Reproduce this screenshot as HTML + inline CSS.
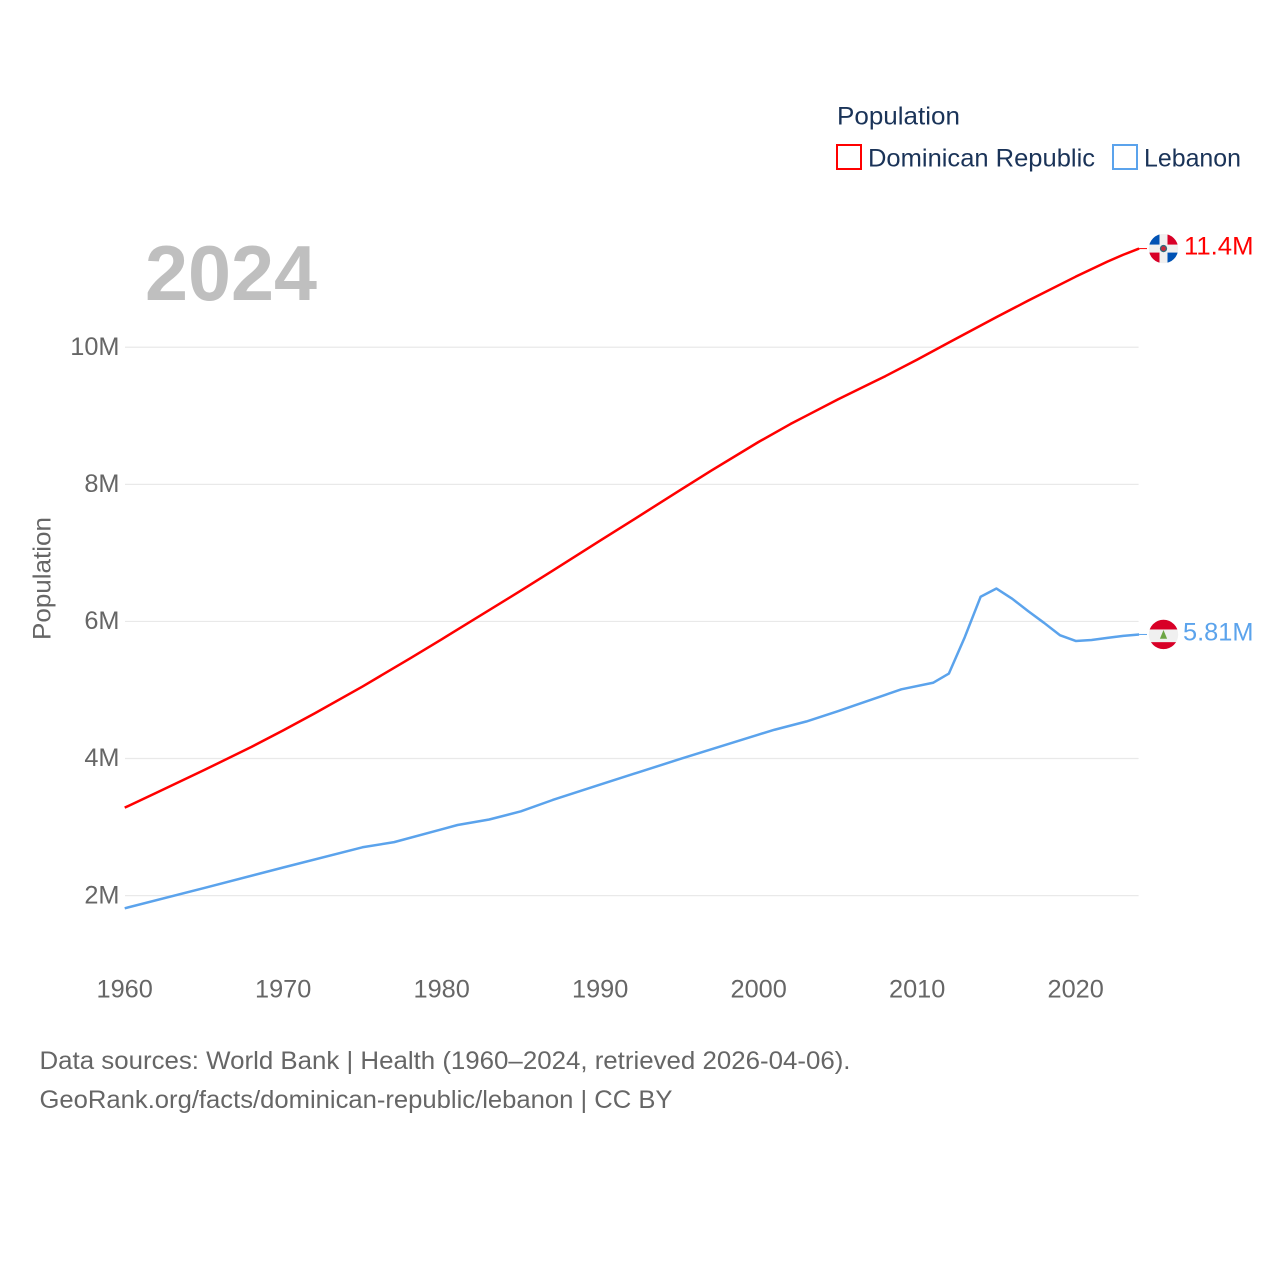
<!DOCTYPE html>
<html lang="en">
<head>
<meta charset="utf-8">
<title>Population: Dominican Republic and Lebanon</title>
<style>
html,body{margin:0;padding:0;background:#fff;width:1280px;height:1280px;overflow:hidden}
svg{display:block}
text{font-family:"Liberation Sans",sans-serif}
</style>
</head>
<body>
<svg id="chart" width="1280" height="1280" viewBox="0 0 1280 1280" xmlns="http://www.w3.org/2000/svg">
  <defs>
    <clipPath id="flag-clip"><circle cx="0" cy="0" r="14.7"/></clipPath>
  </defs>
  <rect width="1280" height="1280" fill="#fff"/>
  <g id="grid"></g>
  <g id="y-ticks"></g>
  <g id="x-ticks"></g>
  <text transform="translate(50.5,640) rotate(-90)" font-size="25" fill="#666" textLength="123" lengthAdjust="spacingAndGlyphs">Population</text>
  <text x="145" y="300" font-size="78" font-weight="700" fill="#bfbfbf" textLength="172" lengthAdjust="spacingAndGlyphs">2024</text>
  <g id="series"></g>
  <g id="end-labels"></g>

  <g>
    <text x="837" y="124.5" font-size="25" fill="#1a3358" textLength="123" lengthAdjust="spacingAndGlyphs">Population</text>
    <g>
      <rect x="837" y="145" width="24" height="24" fill="#fff" stroke="#ff0000" stroke-width="2"/>
      <text x="868" y="166.5" font-size="25" fill="#1a3358" textLength="227" lengthAdjust="spacingAndGlyphs">Dominican Republic</text>
    </g>
    <g>
      <rect x="1113" y="145" width="24" height="24" fill="#fff" stroke="#5ba3ec" stroke-width="2"/>
      <text x="1144" y="166.5" font-size="25" fill="#1a3358" textLength="97" lengthAdjust="spacingAndGlyphs">Lebanon</text>
    </g>
  </g>

  <g>
    <text x="39.5" y="1069" font-size="25" fill="#666" textLength="811" lengthAdjust="spacingAndGlyphs">Data sources: World Bank | Health (1960–2024, retrieved 2026-04-06).</text>
    <text x="39.5" y="1108" font-size="25" fill="#666" textLength="633" lengthAdjust="spacingAndGlyphs">GeoRank.org/facts/dominican-republic/lebanon | CC BY</text>
  </g>
</svg>
<script>
const yTickValues = [2, 4, 6, 8, 10];
const xTickYears = [1960, 1970, 1980, 1990, 2000, 2010, 2020];

const domYears = [1960, 1962, 1965, 1968, 1970, 1972, 1975, 1978, 1980, 1985, 1987, 1990, 1992, 1995, 1997, 2000, 2002, 2003, 2005, 2008, 2010, 2012, 2015, 2017, 2020, 2021, 2022, 2023, 2024];
const domValues = [3.283, 3.50, 3.83, 4.17, 4.41, 4.66, 5.05, 5.46, 5.74, 6.45, 6.74, 7.18, 7.47, 7.91, 8.20, 8.62, 8.88, 9.00, 9.24, 9.58, 9.82, 10.07, 10.44, 10.68, 11.03, 11.14, 11.25, 11.35, 11.44];

const lebYears = [1960, 1965, 1970, 1975, 1977, 1980, 1981, 1983, 1985, 1987, 1990, 1995, 2000, 2001, 2003, 2005, 2006, 2008, 2009, 2011, 2012, 2013, 2014, 2015, 2016, 2017, 2018, 2019, 2020, 2021, 2022, 2023, 2024];
const lebValues = [1.815, 2.11, 2.41, 2.705, 2.78, 2.967, 3.03, 3.11, 3.23, 3.395, 3.62, 3.99, 4.35, 4.42, 4.54, 4.69, 4.77, 4.93, 5.01, 5.105, 5.24, 5.77, 6.36, 6.48, 6.33, 6.15, 5.98, 5.80, 5.715, 5.73, 5.76, 5.79, 5.81];

const NS = 'http://www.w3.org/2000/svg';
function xAxis(year) { return 124.7 + (year - 1960) * 15.85; }
function yAxis(value) { return 895.6 - (value - 2) * 68.54; }
function make(tag, attrs, parent) {
  const el = document.createElementNS(NS, tag);
  for (const k in attrs) el.setAttribute(k, attrs[k]);
  parent.appendChild(el);
  return el;
}
const plotRight = xAxis(2024) - 0.5;

const gridG = document.getElementById('grid');
const yG = document.getElementById('y-ticks');
yTickValues.forEach(function (v) {
  const line = make('line', { x1: 125, x2: plotRight, y1: yAxis(v), y2: yAxis(v), stroke: '#e9e9e9', 'stroke-width': 1.2 }, gridG);
  
  
  const t = make('text', { x: 119.5, y: yAxis(v) + 7.7, 'text-anchor': 'end', 'font-size': 25.3, fill: '#666' }, yG);
  
  
  t.textContent = v + 'M';
});

const xG = document.getElementById('x-ticks');
xTickYears.forEach(function (yr) {
  const t = make('text', { x: xAxis(yr), y: 997.5, 'text-anchor': 'middle', 'font-size': 25.3, fill: '#666' }, xG);
  
  
  t.textContent = yr;
});

function linePoints(years, values) {
  return years.map(function (yr, i) { return xAxis(yr).toFixed(2) + ',' + yAxis(values[i]).toFixed(2); }).join(' ');
}
const seriesG = document.getElementById('series');
const labelsG = document.getElementById('end-labels');

function drawFlagDominican(g) {
  make('rect', { x: -16, y: -16, width: 32, height: 32, fill: '#f0f0f0' }, g);
  make('rect', { x: -16, y: -16, width: 12, height: 12, fill: '#0052b4' }, g);
  make('rect', { x: 4, y: -16, width: 12, height: 12, fill: '#d80027' }, g);
  make('rect', { x: -16, y: 4, width: 12, height: 12, fill: '#d80027' }, g);
  make('rect', { x: 4, y: 4, width: 12, height: 12, fill: '#0052b4' }, g);
  make('circle', { cx: 0, cy: 0, r: 3, fill: '#c8283a', stroke: '#2f6a7c', 'stroke-width': 1.3 }, g);
}
function drawFlagLebanon(g) {
  make('rect', { x: -16, y: -16, width: 32, height: 32, fill: '#f0f0f0' }, g);
  make('rect', { x: -16, y: -16, width: 32, height: 11, fill: '#d80027' }, g);
  make('rect', { x: -16, y: 7.7, width: 32, height: 9, fill: '#d80027' }, g);
  make('polygon', { points: '0,-4.5 3.6,4.3 -3.6,4.3', fill: '#6da544' }, g);
}

// Dominican Republic line, tail, flag and value label
const domLast = domValues[domValues.length - 1];
const domLine = make('polyline', { points: linePoints(domYears, domValues), fill: 'none', stroke: '#ff0000', 'stroke-width': 2.5, 'stroke-linejoin': 'round' }, seriesG);


const domTail = make('line', { x1: xAxis(2024), x2: 1147, y1: yAxis(domLast), y2: yAxis(domLast), stroke: '#ff0000', 'stroke-width': 1 }, seriesG);


const domFlag = make('g', { transform: 'translate(1163.5,' + yAxis(domLast) + ')', 'clip-path': 'url(#flag-clip)' }, labelsG);


drawFlagDominican(domFlag);
const domLabel = make('text', { x: 1184, y: yAxis(domLast) + 6, 'font-size': 25.3, fill: '#ff0000', textLength: 69.5, lengthAdjust: 'spacingAndGlyphs' }, labelsG);


domLabel.textContent = domLast.toPrecision(3) + 'M';

// Lebanon line, tail, flag and value label
const lebLast = lebValues[lebValues.length - 1];
const lebLine = make('polyline', { points: linePoints(lebYears, lebValues), fill: 'none', stroke: '#5ba3ec', 'stroke-width': 2.5, 'stroke-linejoin': 'round' }, seriesG);


const lebTail = make('line', { x1: xAxis(2024), x2: 1147, y1: yAxis(lebLast), y2: yAxis(lebLast), stroke: '#5ba3ec', 'stroke-width': 1 }, seriesG);


const lebFlag = make('g', { transform: 'translate(1163.5,' + yAxis(lebLast) + ')', 'clip-path': 'url(#flag-clip)' }, labelsG);


drawFlagLebanon(lebFlag);
const lebLabel = make('text', { x: 1183, y: yAxis(lebLast) + 6, 'font-size': 25.3, fill: '#5ba3ec', textLength: 70.5, lengthAdjust: 'spacingAndGlyphs' }, labelsG);


lebLabel.textContent = lebLast.toPrecision(3) + 'M';
</script>
</body>
</html>
